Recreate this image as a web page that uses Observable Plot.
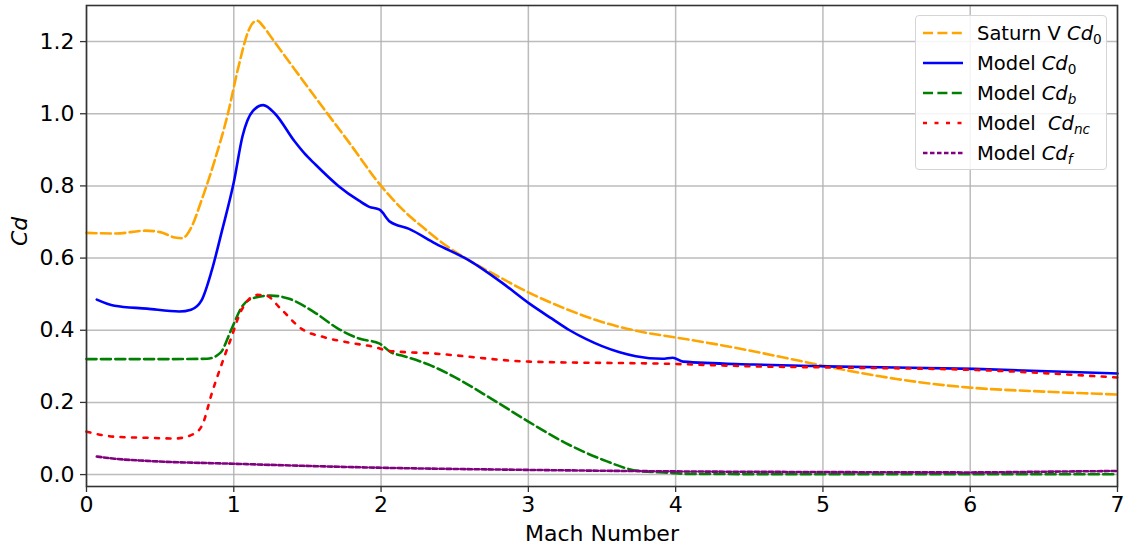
<!DOCTYPE html>
<html>
<head>
<meta charset="utf-8">
<script src="https://cdn.jsdelivr.net/npm/d3@7"></script>
<script src="https://cdn.jsdelivr.net/npm/@observablehq/plot@0.6"></script>
<style>
  html, body { margin: 0; padding: 0; background: #fff; }
  #wrap { position: relative; width: 1127px; height: 550px; font-family: "DejaVu Sans", sans-serif; }
  #legend { position: absolute; left: 915px; top: 15px; width: 192px; height: 155px;
    border: 1px solid #d5d5d5; border-radius: 4px; background: rgba(255,255,255,0.85); box-sizing: border-box; }
  .row { position: absolute; left: 6px; height: 30px; display: flex; align-items: center; font-size: 19.5px; color: #000; white-space: pre; }
  .row svg { margin-right: 14px; }
  sub { font-size: 70%; vertical-align: -0.3em; line-height: 0; }
</style>
</head>
<body>
<div id="wrap"></div>
<script>
// Saturn V Cd0
const satM = [0, 0.2, 0.4, 0.5, 0.6, 0.65, 0.71, 0.78, 0.87, 0.96, 1.03, 1.1, 1.13, 1.16, 1.2, 1.27, 1.41, 1.6, 1.78, 2.0, 2.14, 2.3, 2.45, 2.58, 2.8, 3.0, 3.25, 3.5, 3.75, 4.0, 4.25, 4.5, 4.75, 5.0, 5.25, 5.5, 5.75, 6.0, 6.5, 7.0];
const satV = [0.670, 0.668, 0.676, 0.672, 0.657, 0.655, 0.684, 0.759, 0.87, 1.0, 1.127, 1.23, 1.252, 1.258, 1.242, 1.203, 1.125, 1.02, 0.922, 0.80, 0.737, 0.68, 0.632, 0.598, 0.548, 0.505, 0.46, 0.423, 0.397, 0.38, 0.363, 0.344, 0.323, 0.302, 0.282, 0.265, 0.251, 0.241, 0.23, 0.222];
// Model Cd0
const cd0M = [0.07, 0.19, 0.41, 0.63, 0.71, 0.78, 0.85, 0.92, 1.0, 1.06, 1.13, 1.2, 1.28, 1.41, 1.48, 1.55, 1.71, 1.85, 1.92, 1.99, 2.06, 2.19, 2.37, 2.6, 2.82, 3.01, 3.16, 3.28, 3.39, 3.5, 3.62, 3.73, 3.91, 3.98, 4.05, 4.53, 5.02, 6.03, 7.0];
const cd0V = [0.485, 0.468, 0.46, 0.452, 0.457, 0.482, 0.565, 0.676, 0.81, 0.939, 1.008, 1.024, 1.0, 0.925, 0.89, 0.861, 0.80, 0.759, 0.742, 0.734, 0.701, 0.681, 0.64, 0.593, 0.532, 0.473, 0.432, 0.40, 0.376, 0.356, 0.339, 0.328, 0.321, 0.324, 0.313, 0.305, 0.30, 0.293, 0.28];
// Model Cdb
const cdbM = [0, 0.5, 0.82, 0.91, 0.98, 1.06, 1.14, 1.25, 1.37, 1.55, 1.71, 1.85, 1.99, 2.07, 2.14, 2.34, 2.5, 2.75, 3.0, 3.25, 3.5, 3.75, 3.96, 4.07, 5.0, 6.0, 7.0];
const cdbV = [0.32, 0.32, 0.321, 0.338, 0.399, 0.468, 0.49, 0.496, 0.488, 0.449, 0.404, 0.377, 0.363, 0.338, 0.33, 0.302, 0.27, 0.21, 0.147, 0.088, 0.042, 0.01, 0.005, 0.002, 0.001, 0.001, 0.001];
// Model Cdnc
const cdncM = [0, 0.19, 0.41, 0.6, 0.73, 0.79, 0.85, 0.91, 0.98, 1.05, 1.16, 1.22, 1.32, 1.46, 1.62, 1.78, 1.96, 2.05, 2.34, 3.01, 3.96, 4.53, 5.02, 6.03, 7.0];
const cdncV = [0.119, 0.105, 0.102, 0.10, 0.113, 0.141, 0.224, 0.297, 0.376, 0.454, 0.498, 0.496, 0.459, 0.404, 0.38, 0.366, 0.353, 0.343, 0.336, 0.313, 0.307, 0.30, 0.297, 0.29, 0.269];
// Model Cdf
const cdfM = [0.07, 0.19, 0.41, 1.0, 2.0, 3.0, 3.96, 5.0, 6.0, 6.5, 7.0];
const cdfV = [0.05, 0.044, 0.038, 0.03, 0.019, 0.013, 0.009, 0.007, 0.006, 0.008, 0.01];

const xTicks = [0, 1, 2, 3, 4, 5, 6, 7];
const yTicks = [0.0, 0.2, 0.4, 0.6, 0.8, 1.0, 1.2];

const series = [
  {name: "Saturn V", sub: "0", subItalic: false, M: satM, V: satV, color: "orange", dash: "10,4.4"},
  {name: "Model", sub: "0", subItalic: false, M: cd0M, V: cd0V, color: "blue", dash: null},
  {name: "Model", sub: "b", subItalic: true, M: cdbM, V: cdbV, color: "green", dash: "10,4.4"},
  {name: "Model ", sub: "nc", subItalic: true, M: cdncM, V: cdncV, color: "red", dash: "4,7.5"},
  {name: "Model", sub: "f", subItalic: true, M: cdfM, V: cdfV, color: "purple", dash: "4.5,2.5"}
];

const toRows = s => s.M.map((m, i) => ({m, v: s.V[i]}));

const lineMarks = series.map(s => Plot.line(toRows(s), {
  x: "m", y: "v", stroke: s.color, strokeWidth: 2.6,
  strokeDasharray: s.dash || undefined, curve: "monotone-x"
}));

const chart = Plot.plot({
  width: 1127, height: 550,
  marginLeft: 86, marginRight: 10, marginTop: 5, marginBottom: 64,
  style: {fontFamily: "DejaVu Sans, sans-serif", fontSize: "22px", color: "#000", background: "#fff"},
  x: {domain: [0, 7]},
  y: {domain: [-0.033, 1.3]},
  marks: [
    Plot.gridX(xTicks, {stroke: "#b0b0b0", strokeOpacity: 0.85, strokeWidth: 1.5}),
    Plot.gridY(yTicks, {stroke: "#b0b0b0", strokeOpacity: 0.85, strokeWidth: 1.5}),
    ...lineMarks,
    Plot.frame({stroke: "#333", strokeWidth: 1.6}),
    Plot.axisX(xTicks, {tickSize: 6, tickPadding: 4, fontSize: 22, label: null, tickFormat: d3.format("d"), stroke: "#333", strokeWidth: 1.3}),
    Plot.axisY(yTicks, {tickSize: 6, tickPadding: 6, fontSize: 22, label: null, tickFormat: d3.format(".1f"), stroke: "#333", strokeWidth: 1.3}),
    Plot.text(["Mach Number"], {frameAnchor: "bottom", dy: 47, fontSize: 22, lineAnchor: "middle"}),
    Plot.text(["Cd"], {frameAnchor: "left", dx: -67, rotate: -90, fontSize: 22, fontStyle: "italic", lineAnchor: "middle"})
  ]
});

const wrap = document.getElementById("wrap");
wrap.appendChild(chart);

const legend = document.createElement("div");
legend.id = "legend";
series.forEach((s, i) => {
  const row = document.createElement("div");
  row.className = "row";
  row.style.top = (2 + i * 30) + "px";
  const dashAttr = s.dash ? `stroke-dasharray="${s.dash}"` : "";
  const subHtml = s.subItalic ? `<i>${s.sub}</i>` : s.sub;
  row.innerHTML = `<svg width="41" height="10"><line x1="1" y1="5" x2="41" y2="5" stroke="${s.color}" stroke-width="2.6" ${dashAttr}/></svg><span>${s.name} <i>Cd</i><sub>${subHtml}</sub></span>`;
  legend.appendChild(row);
});
wrap.appendChild(legend);
</script>
</body>
</html>
